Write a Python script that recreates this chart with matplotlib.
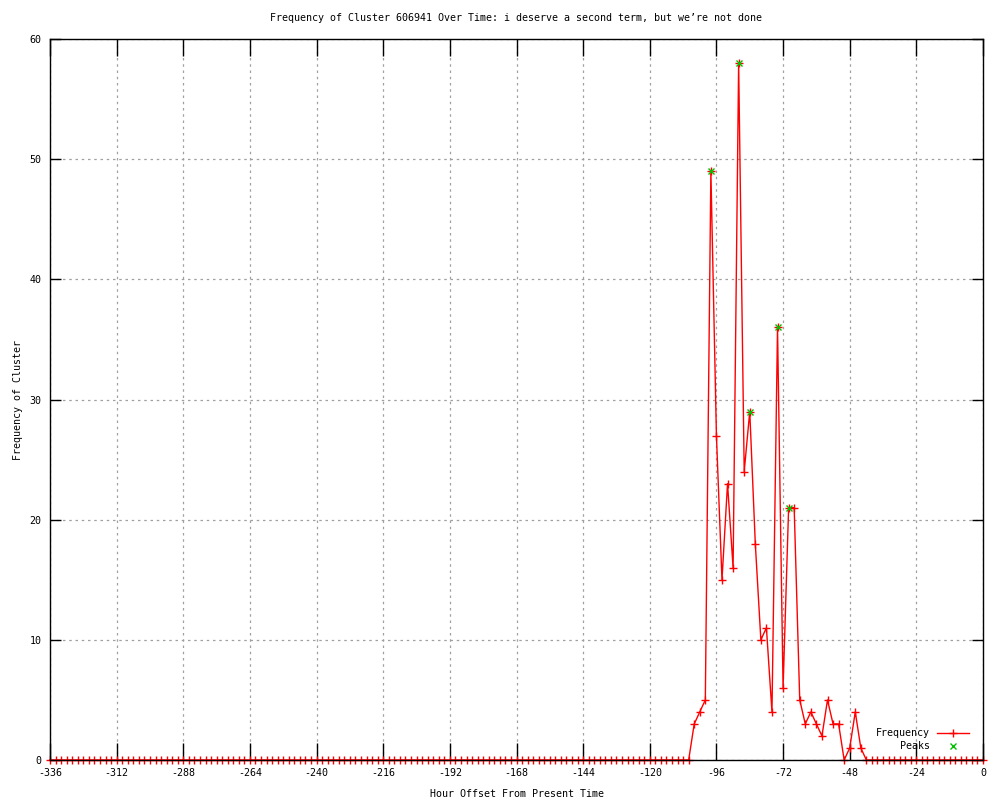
import numpy as np
import matplotlib
matplotlib.use('Agg')
import matplotlib.pyplot as plt

# hours before now, sampled every 2 hours
hours = np.arange(-336, 1, 2)

# cluster frequency per 2-hour bin
frequency = [
    0, 0, 0, 0, 0, 0, 0, 0, 0, 0, 0, 0, 0, 0, 0, 0, 0, 0, 0, 0,
    0, 0, 0, 0, 0, 0, 0, 0, 0, 0, 0, 0, 0, 0, 0, 0, 0, 0, 0, 0,
    0, 0, 0, 0, 0, 0, 0, 0, 0, 0, 0, 0, 0, 0, 0, 0, 0, 0, 0, 0,
    0, 0, 0, 0, 0, 0, 0, 0, 0, 0, 0, 0, 0, 0, 0, 0, 0, 0, 0, 0,
    0, 0, 0, 0, 0, 0, 0, 0, 0, 0, 0, 0, 0, 0, 0, 0, 0, 0, 0, 0,
    0, 0, 0, 0, 0, 0, 0, 0, 0, 0, 0, 0, 0, 0, 0, 0,
    3, 4, 5, 49, 27, 15, 23, 16, 58, 24, 29, 18, 10, 11, 4, 36,
    6, 21, 21, 5, 3, 4, 3, 2, 5, 3, 3, 0, 1, 4, 1,
    0, 0, 0, 0, 0, 0, 0, 0, 0, 0, 0, 0, 0, 0, 0, 0, 0, 0, 0, 0, 0, 0,
]

peak_hours = [-98, -88, -84, -74, -70]
peak_values = [49, 58, 29, 36, 21]

x_ticks = list(range(-336, 1, 24))
y_ticks = list(range(0, 61, 10))

plt.rcParams['font.family'] = ['DejaVu Sans Mono']
plt.rcParams['axes.unicode_minus'] = False
fs = 7.2

fig = plt.figure(figsize=(10, 8), dpi=100)
ax = fig.add_axes([0.05, 0.05, 0.933, 0.9012])

# red frequency line with + markers
ax.plot(hours, frequency, color='red', linewidth=1, marker='+',
        markersize=6, markeredgewidth=1, clip_on=False, zorder=3)
# green x markers for peaks
ax.plot(peak_hours, peak_values, linestyle='none', color='#00c000', marker='x',
        markersize=5, markeredgewidth=1, zorder=4)

ax.set_xlim(-336, 0)
ax.set_ylim(0, 60)
ax.set_xticks(x_ticks)
ax.set_yticks(y_ticks)
ax.tick_params(axis='x', direction='in', length=12, width=1, labelsize=fs, pad=6,
               top=True, bottom=True)
ax.tick_params(axis='y', direction='in', length=8, width=1, labelsize=fs, pad=6,
               left=True, right=True)
ax.grid(True, color='#a0a0a0', linestyle=(0, (2, 3)), linewidth=0.9)
for s in ax.spines.values():
    s.set_linewidth(1)
    s.set_zorder(5)

ax.set_title("Frequency of Cluster 606941 Over Time: i deserve a second term, but we\u2019re not done",
             fontsize=fs, pad=13)
ax.set_xlabel('Hour Offset From Present Time', fontsize=fs, labelpad=8)
ax.set_ylabel('Frequency of Cluster', fontsize=fs, labelpad=5)

# legend drawn in gnuplot style (text right-aligned, sample to the right)
ax.text(0.943, 0.0374, 'Frequency', transform=ax.transAxes, ha='right', va='center', fontsize=fs)
ax.text(0.943, 0.0194, 'Peaks', transform=ax.transAxes, ha='right', va='center', fontsize=fs)
ax.plot([0.9507, 0.985], [0.0374, 0.0374], transform=ax.transAxes, color='red', linewidth=1)
ax.plot([0.968], [0.0374], transform=ax.transAxes, color='red', marker='+', markersize=6)
ax.plot([0.968], [0.0194], transform=ax.transAxes, color='#00c000', marker='x', markersize=5)

fig.savefig('out.png', dpi=100)
